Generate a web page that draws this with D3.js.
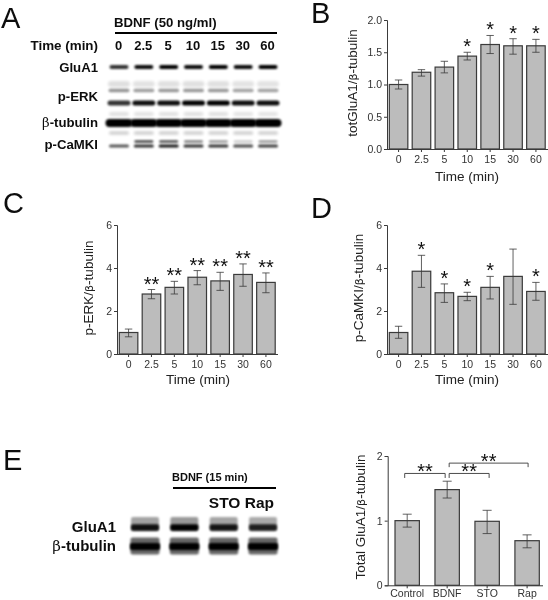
<!DOCTYPE html>
<html><head><meta charset="utf-8">
<script src="https://cdn.jsdelivr.net/npm/d3@7"></script>
<style>
html,body{margin:0;padding:0;background:#fff}
svg{display:block}
text{font-family:"Liberation Sans",Arial,sans-serif}
</style></head><body>
<svg id="fig" width="548" height="600"></svg>
<script>
const timeLabels = ["0","2.5","5","10","15","30","60"];
const treatLabels = ["Control","BDNF","STO","Rap"];

const bMean = [1.0,1.19,1.27,1.44,1.62,1.6,1.6];
const bHigh = [1.07,1.23,1.36,1.5,1.76,1.71,1.7];
const bLow  = [0.93,1.13,1.18,1.38,1.48,1.47,1.5];
const bStars = ["","","","*","*","*","*"];
const bTicks = ["0.0","0.5","1.0","1.5","2.0"];

const cMean = [1.0,2.79,3.1,3.57,3.4,3.7,3.33];
const cHigh = [1.16,3.0,3.38,3.88,3.8,4.19,3.77];
const cLow  = [0.8,2.57,2.79,3.22,2.96,3.15,2.85];
const cStars = ["","**","**","**","**","**","**"];

const dMean = [1.0,3.85,2.85,2.68,3.1,3.61,2.91];
const dHigh = [1.29,4.59,3.26,2.87,3.61,4.88,3.33];
const dLow  = [0.73,3.1,2.4,2.48,2.56,2.31,2.5];
const dStars = ["","*","*","*","*","","*"];

const eMean = [1.0,1.48,0.99,0.69];
const eHigh = [1.1,1.61,1.16,0.78];
const eLow  = [0.9,1.35,0.8,0.58];

// blot band darkness (0-1)
const bandGluA1 = [.8,.95,1,.95,1,.95,1];
const bandErkUp = [.42,.38,.4,.4,.4,.36,.36];
const bandErkLow = [.8,.95,.95,1,1,.95,.95];
const bandTub = [1,1,1,1,1,1,1];
const bandCamkUp = [.0,.75,.7,.5,.4,.2,.4];
const bandCamkLow = [.65,.8,.9,.8,.8,.7,.75];
const eBandGluA1 = [.9,1,.88,.82];
const eBandTub = [1,1,1,1];
const eLanes = ["Control","BDNF","STO","Rap"];

const svg = d3.select("#fig");
const defs = svg.append("defs");
[["blur1",1.0],["blur2",1.6],["soft",0.35]].forEach(([id,s])=>{
  defs.append("filter").attr("id",id).attr("x","-30%").attr("y","-400%").attr("width","160%").attr("height","900%")
    .append("feGaussianBlur").attr("stdDeviation",s);
});
const ink = "#3a3a3a";

function barPanel(o){
  const g = svg.append("g").attr("filter","url(#soft)");
  const x = d3.scaleBand().domain(o.cats).range(o.xr).paddingInner(o.pad).paddingOuter(0);
  const y = d3.scaleLinear().domain([0,o.ymax]).range(o.yr);
  g.selectAll("rect.bar").data(o.mean).join("rect").attr("class","bar")
    .attr("x",(d,i)=>x(o.cats[i])).attr("width",x.bandwidth())
    .attr("y",d=>y(d)).attr("height",d=>y(0)-y(d))
    .attr("fill","#bcbcbc").attr("stroke",ink).attr("stroke-width",1.2);
  const cx = i=>x(o.cats[i])+x.bandwidth()/2;
  const eb = g.append("g").attr("stroke",ink).attr("stroke-width",.8).attr("fill","none");
  o.mean.forEach((m,i)=>{
    eb.append("line").attr("x1",cx(i)).attr("x2",cx(i)).attr("y1",y(o.high[i])).attr("y2",y(o.low[i]));
    [o.high[i],o.low[i]].forEach(v=>eb.append("line").attr("x1",cx(i)-o.cap).attr("x2",cx(i)+o.cap).attr("y1",y(v)).attr("y2",y(v)));
  });
  if(o.stars) o.stars.forEach((s,i)=>{ if(!s) return;
    g.append("text").attr("x",cx(i)).attr("y",y(o.high[i])+1).attr("text-anchor","middle")
      .attr("font-size",20).attr("fill","#111").text(s);
  });
  const yAxis = d3.axisLeft(y).tickValues(o.yTicks).tickSize(3).tickPadding(2).tickFormat(o.yFmt);
  const ya = g.append("g").attr("transform",`translate(${o.ax},0)`).call(yAxis);
  const xAxis = d3.axisBottom(x).tickSize(3).tickPadding(o.xPad==null?4:o.xPad).tickSizeOuter(0);
  const xa = g.append("g").attr("transform",`translate(0,${o.yr[0]})`).call(xAxis);
  [ya,xa].forEach(a=>{
    a.selectAll("text").attr("font-size",10.5).attr("fill","#333").attr("font-family",'"Liberation Sans",Arial,sans-serif');
    a.selectAll("line").attr("stroke",ink);
    a.select(".domain").attr("stroke",ink);
  });
  xa.select(".domain").attr("d",`M${o.ax},0.5H${o.xEnd}`);
  if(o.xLabel) g.append("text").attr("x",o.xLabelX).attr("y",o.xLabelY).attr("text-anchor","middle")
    .attr("font-size",13.5).attr("fill","#222").text(o.xLabel);
  const yl = g.append("text").attr("transform",`translate(${o.yLabelX},${o.yLabelY}) rotate(-90)`)
    .attr("text-anchor","middle").attr("font-size",13.5).attr("fill","#222");
  yl.append("tspan").text(o.yLabelA);
  yl.append("tspan").attr("font-family",'"DejaVu Sans"').attr("font-size",11).text("β");
  yl.append("tspan").text("-tubulin");
  return {x,y,cx,g};
}

barPanel({cats:timeLabels,mean:bMean,high:bHigh,low:bLow,stars:bStars,xr:[389.3,545.2],pad:.19,yr:[149,20],ymax:2,
  ax:387,xEnd:548,cap:3.7,yTicks:[0,.5,1,1.5,2],yFmt:(d,i)=>bTicks[i],xLabel:"Time (min)",xLabelX:467,xLabelY:181,
  yLabelA:"totGluA1/",yLabelX:357,yLabelY:83});
barPanel({cats:timeLabels,mean:cMean,high:cHigh,low:cLow,stars:cStars,xr:[119.3,275.2],pad:.19,yr:[354,225],ymax:6,
  ax:117,xEnd:278,cap:3.7,yTicks:[0,2,4,6],yFmt:d3.format("d"),xLabel:"Time (min)",xLabelX:198,xLabelY:384,
  yLabelA:"p-ERK/",yLabelX:93,yLabelY:288});
barPanel({cats:timeLabels,mean:dMean,high:dHigh,low:dLow,stars:dStars,xr:[389.3,545.2],pad:.19,yr:[354,225],ymax:6,
  ax:387,xEnd:548,cap:3.7,yTicks:[0,2,4,6],yFmt:d3.format("d"),xLabel:"Time (min)",xLabelX:467,xLabelY:384,
  yLabelA:"p-CaMKI/",yLabelX:363,yLabelY:288});
const pe = barPanel({cats:treatLabels,mean:eMean,high:eHigh,low:eLow,xr:[395,539.3],pad:.39,yr:[585.3,456],ymax:2,
  ax:387.7,xEnd:543,cap:4.5,xPad:1.5,yTicks:[0,1,2],yFmt:d3.format("d"),
  yLabelA:"Total GluA1/",yLabelX:365,yLabelY:517});

function bracket(a,b,offA,offB,val,drop,star){
  const xa=pe.cx(a)+offA, xb=pe.cx(b)+offB, yy=pe.y(val);
  pe.g.append("path").attr("d",`M${xa},${yy+drop}V${yy}H${xb}V${yy+drop}`).attr("fill","none").attr("stroke",ink).attr("stroke-width",.9);
  pe.g.append("text").attr("x",(xa+xb)/2).attr("y",yy+5).attr("text-anchor","middle").attr("font-size",20).attr("fill","#111").text(star);
}
bracket(0,1,-2.5,-2,1.73,4.5,"**");
bracket(1,2,2,2,1.73,4.5,"**");
bracket(1,3,2,1,1.89,4,"**");

function lanesBand(g,xs,vals,yc,h,w,blur,rx){
  g.selectAll(null).data(vals).join("rect")
    .attr("x",(d,i)=>xs[i]-w/2).attr("width",w).attr("y",yc-h/2).attr("height",h).attr("rx",rx==null?h/2:rx)
    .attr("fill","#000").attr("opacity",d=>d).attr("filter",`url(#${blur})`);
}
// panel A
const gA = svg.append("g");
const xA = d3.scalePoint().domain(timeLabels).range([119,268]);
const xsA = timeLabels.map(d=>xA(d));
lanesBand(gA,xsA,bandErkUp.map(d=>d*.3),84,6,22,"blur2");
lanesBand(gA,xsA,bandErkUp,90.5,3.5,21,"blur1");
lanesBand(gA,xsA,bandErkLow,103,5,23,"blur1");
lanesBand(gA,xsA,bandErkUp.map(d=>d*.3),114,4,20,"blur2");
lanesBand(gA,xsA,bandTub.map(d=>d*.22),133,3,20,"blur2");
lanesBand(gA,xsA,bandGluA1,67,4,19,"blur1");
lanesBand(gA,xsA,bandTub,123,8,27,"blur1");
lanesBand(gA,xsA,bandCamkUp,141.5,2.6,19,"blur1");
lanesBand(gA,xsA,bandCamkLow,146,3,20,"blur1");

// panel E blots
const gE = svg.append("g");
const xE = d3.scalePoint().domain(eLanes).range([145,263]);
const xsE = eLanes.map(d=>xE(d));
lanesBand(gE,xsE,eBandGluA1.map(d=>d*.4),524,14,28,"blur1",2);
lanesBand(gE,xsE,eBandGluA1,527.5,6.5,28,"blur1",2);
lanesBand(gE,xsE,eBandTub.map(d=>d*.6),546,17,29,"blur1",2);
lanesBand(gE,xsE,eBandTub,546.5,7,30,"blur1",2);

// blot labels
const lab = svg.append("g").attr("filter","url(#soft)").attr("font-weight","bold").attr("fill","#111");
function bt(x,y,s,size,anchor){
  return lab.append("text").attr("x",x).attr("y",y).attr("font-size",size).attr("text-anchor",anchor||"start").text(s);
}
bt(114,27,"BDNF (50 ng/ml)",13.2);
bt(98,50,"Time (min)",13.4,"end");
timeLabels.forEach(t=>bt(xA(t)-0.5,50,t,13,"middle"));
bt(98,72,"GluA1",13.2,"end");
bt(98,101,"p-ERK",13.2,"end");
function betaLabel(x,y,size){
  const t=lab.append("text").attr("x",x).attr("y",y).attr("font-size",size).attr("text-anchor","end");
  t.append("tspan").attr("font-family",'"DejaVu Serif"').attr("font-weight","normal").text("β");
  t.append("tspan").text("-tubulin");
}
betaLabel(98,127,13.2);
bt(98,149,"p-CaMKI",13.2,"end");
lab.append("line").attr("x1",115).attr("x2",277).attr("y1",33).attr("y2",33).attr("stroke","#000").attr("stroke-width",1.8);

bt(172,481,"BDNF (15 min)",11);
lab.append("line").attr("x1",173).attr("x2",276).attr("y1",488).attr("y2",488).attr("stroke","#000").attr("stroke-width",1.8);
bt(274,508,"STO Rap",15.5,"end");
bt(116,532,"GluA1",15,"end");
betaLabel(116,551,15);

const letters = svg.append("g").attr("font-size",29).attr("fill","#111").attr("filter","url(#soft)");
[["A",1,28],["B",311,23],["C",3,213],["D",311,218],["E",3,470]].forEach(([s,x,y])=>{
  letters.append("text").attr("x",x).attr("y",y).text(s);
});
</script>
</body></html>
